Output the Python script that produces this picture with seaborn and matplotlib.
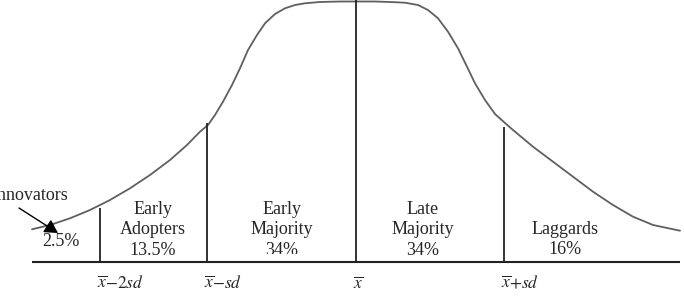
import matplotlib
matplotlib.use("Agg")
import matplotlib.pyplot as plt
import seaborn as sns
import pandas as pd
from matplotlib.patches import Rectangle

# ---- data (x: horizontal position, h: height above baseline) ----
curve_x = [32, 50, 70, 90, 110, 130, 150, 170, 187, 200, 208, 215, 223, 232, 240, 248,
           257, 265, 275, 285, 295, 305, 320, 340, 356, 375, 390, 405, 418, 428, 438,
           448, 458, 467, 475, 485, 495, 505, 513, 533, 553, 573, 593, 613, 633, 653, 680]
curve_h = [32.7, 37, 43.7, 52, 62, 73.7, 87, 102, 117, 130.3, 137, 147, 160.3, 177,
           193.7, 212, 227, 238.7, 248, 253.7, 257, 258.7, 260, 260.5, 260.5, 260.5, 260,
           259.3, 257, 252, 243.7, 230.3, 213.7, 195.3, 178.7, 162, 148, 139, 132, 115.3,
           100.3, 85.3, 70.3, 57, 45.3, 37, 31.3]

boundary_x = [100, 207, 356, 504]
boundary_top = [54, 139, 262, 135]

categories = ["Innovators", "Early\nAdopters", "Early\nMajority", "Late\nMajority", "Laggards"]
shares = ["2.5%", "13.5%", "34%", "34%", "16%"]
tick_labels = [r"$\overline{x}{-}2sd$", r"$\overline{x}{-}sd$", r"$\overline{x}$", r"$\overline{x}{+}sd$"]

baseline_span = [32, 680]

# ---- figure ----
sns.set_style("white")
plt.rcParams["font.family"] = ["Liberation Serif", "DejaVu Serif"]
plt.rcParams["mathtext.fontset"] = "stix"

fig = plt.figure(figsize=(6.84, 2.98), dpi=100)
ax = fig.add_axes([0, 0, 1, 1])
ax.set_xlim(0, 684)
ax.set_ylim(-36, 262)
ax.axis("off")

df = pd.DataFrame({"x": curve_x, "h": curve_h})
sns.lineplot(data=df, x="x", y="h", ax=ax, color="#5f5f5f", linewidth=1.3, sort=False)

# baseline
ax.plot(baseline_span, [0, 0], color="#222222", linewidth=1.5, solid_capstyle="butt")

# category boundaries
ax.vlines(boundary_x, 0, boundary_top, colors="#222222", linewidth=1.3)

fs = 13
# innovators label with arrow
ax.text(68, 67, categories[0], ha="right", va="center", fontsize=fs)
ax.annotate("", xy=(58, 29), xytext=(19, 54),
            arrowprops=dict(arrowstyle="-|>,head_length=0.8,head_width=0.45",
                            color="black", lw=1.0, shrinkA=0, shrinkB=0))
ax.text(61, 21, shares[0], ha="center", va="center", fontsize=fs)

centers = [153, 282, 423, 565]
ys = [32, 32, 32, 22.5]
for i, (cx, cy) in enumerate(zip(centers, ys)):
    t = ax.text(cx, cy, categories[i + 1] + "\n" + shares[i + 1], ha="center", va="center",
                fontsize=fs, linespacing=1.3)
    if i == 1:
        clip = Rectangle((cx - 60, 8.5), 120, 200, transform=ax.transData)
        t.set_clip_path(clip)
        t.set_clip_on(True)

# tick labels under the boundaries
for bx, lab in zip(boundary_x, tick_labels):
    ax.text(bx - 3, -22, lab, ha="left", va="center", fontsize=12.5)

fig.savefig("out.png", dpi=100)
